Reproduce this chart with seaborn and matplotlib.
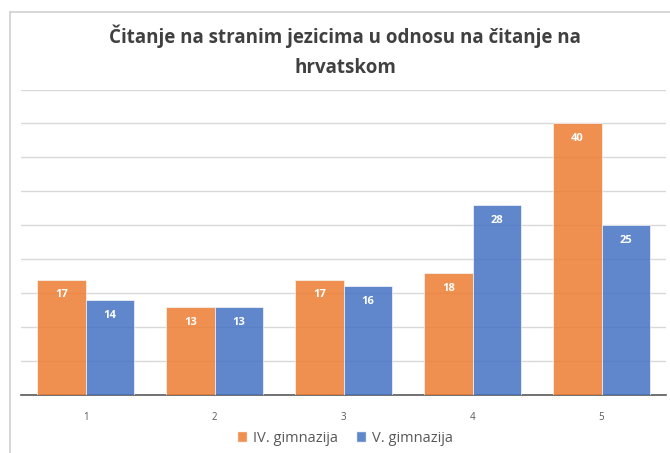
import pandas as pd
import seaborn as sns
import matplotlib.pyplot as plt
from matplotlib.lines import Line2D
from matplotlib.patches import Patch

categories = ['1', '2', '3', '4', '5']
iv_gimnazija = [17, 13, 17, 18, 40]
v_gimnazija = [14, 13, 16, 28, 25]
schools = ['IV. gimnazija', 'V. gimnazija']
colors = ['#ED7D31', '#4472C4']

df = pd.DataFrame({
  'kategorija': categories * 2,
  'skola': [schools[0]] * 5 + [schools[1]] * 5,
  'broj': iv_gimnazija + v_gimnazija,
})

sns.set_style('white')
plt.rcParams['font.family'] = ['Open Sans', 'DejaVu Sans']

fig = plt.figure(figsize=(6.7, 4.53), dpi=100)
ax = fig.add_axes([21 / 670, 1 - 395 / 453, 645 / 670, 305.5 / 453])

sns.barplot(data=df, x='kategorija', y='broj', hue='skola', order=categories,
            hue_order=schools, palette=colors, saturation=1, width=0.75, alpha=0.85,
            edgecolor='#f4f4f4', linewidth=0.6, ax=ax, zorder=3)

for cont in ax.containers:
  ax.bar_label(cont, labels=[f'{int(v)}' for v in cont.datavalues], label_type='edge',
               padding=-15, color='white', fontsize=8, fontweight='bold')

ax.set_ylim(0, 45)
ax.set_yticks(range(0, 46, 5))
ax.yaxis.grid(True, color='#d9d9d9', linewidth=1, zorder=0)
ax.set_axisbelow(True)
ax.tick_params(axis='y', left=False, labelleft=False)
ax.tick_params(axis='x', bottom=False, labelsize=7, labelcolor='#595959', pad=9)
for s in ['top', 'right', 'left']:
  ax.spines[s].set_visible(False)
ax.spines['bottom'].set_color('#595959')
ax.spines['bottom'].set_linewidth(1.2)
ax.set_xlabel('')
ax.set_ylabel('')
ax.get_legend().remove()

handles = [Patch(facecolor=c, alpha=0.85) for c in colors]
fig.legend(handles, schools, loc='center', bbox_to_anchor=(345 / 670, 1 - 438 / 453),
           ncol=2, frameon=False, fontsize=10.5, labelcolor='#595959',
           handlelength=0.7, handleheight=0.7, handletextpad=0.4, columnspacing=1.2)

fig.text(345 / 670, 1 - 51 / 453, 'Čitanje na stranim jezicima u odnosu na čitanje na\nhrvatskom',
         ha='center', va='center', fontsize=13.5, fontweight='bold', color='#404040',
         linespacing=1.7)

# chart frame (cropped at right and bottom)
fig.add_artist(Line2D([10 / 670, 10 / 670], [0, 1 - 12 / 453], color='#d0d0d0', lw=1.2,
                      transform=fig.transFigure))
fig.add_artist(Line2D([10 / 670, 1], [1 - 12 / 453, 1 - 12 / 453], color='#d0d0d0', lw=1.2,
                      transform=fig.transFigure))

fig.savefig('out.png', dpi=100)
